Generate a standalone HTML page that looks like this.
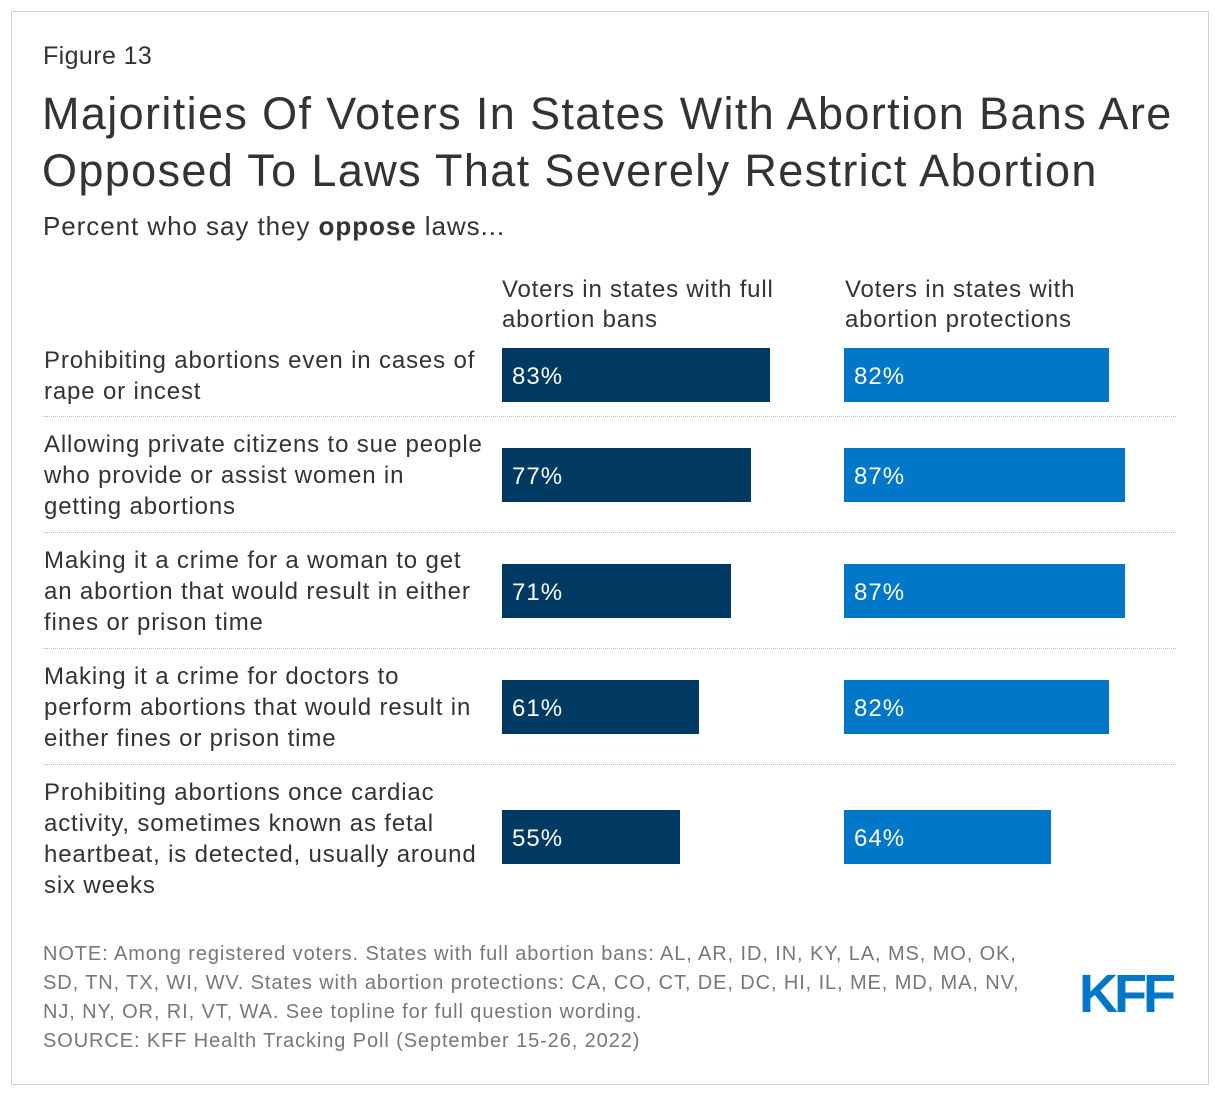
<!DOCTYPE html>
<html><head><meta charset="utf-8"><style>
body{margin:0;background:#fff;font-family:"Liberation Sans",Arial,sans-serif;}
#frame{position:absolute;left:11px;top:11px;width:1196px;height:1072px;border:1px solid #d0d0d0;background:#fff;}
.abs{position:absolute;white-space:nowrap;}
.lbl{position:absolute;left:44px;font-size:24px;line-height:31px;color:#333;white-space:nowrap;letter-spacing:0.85px;}
.sep{position:absolute;left:44px;width:1132px;border-top:1px dotted #bbb;}
.bar{position:absolute;height:54px;}
.val{position:absolute;color:#fff;font-size:24px;line-height:58px;letter-spacing:1px;}
.note{font-size:20px;color:#777;line-height:29px;letter-spacing:0.9px;}
</style></head><body>
<div id="frame"></div>
<div class="abs" style="left:43px;top:42px;font-size:25px;color:#333;letter-spacing:0.4px">Figure 13</div>
<div class="abs" style="left:42px;top:85px;font-size:45px;line-height:57px;color:#333;letter-spacing:1.37px">Majorities Of Voters In States With Abortion Bans Are<br>Opposed To Laws That Severely Restrict Abortion</div>
<div class="abs" style="left:43px;top:211px;font-size:26px;color:#333;letter-spacing:0.94px">Percent who say they <b>oppose</b> laws...</div>
<div class="abs" style="left:502px;top:275px;font-size:24px;line-height:30px;color:#333;letter-spacing:0.8px">Voters in states with full<br>abortion bans</div>
<div class="abs" style="left:845px;top:275px;font-size:24px;line-height:30px;color:#333;letter-spacing:0.8px">Voters in states with<br>abortion protections</div>
<div id="chart"></div>
<div class="abs note" style="left:43px;top:940px">NOTE: Among registered voters. States with full abortion bans: AL, AR, ID, IN, KY, LA, MS, MO, OK,<br>SD, TN, TX, WI, WV. States with abortion protections: CA, CO, CT, DE, DC, HI, IL, ME, MD, MA, NV,<br>NJ, NY, OR, RI, VT, WA. See topline for full question wording.<br>SOURCE: KFF Health Tracking Poll (September 15-26, 2022)</div>
<div class="abs" style="left:1079px;top:962px;font-size:54px;font-weight:bold;color:#0077c8;letter-spacing:-4px;line-height:64px">KFF</div>
<script>
const categories=["Prohibiting abortions even in cases of<br>rape or incest","Allowing private citizens to sue people<br>who provide or assist women in<br>getting abortions","Making it a crime for a woman to get<br>an abortion that would result in either<br>fines or prison time","Making it a crime for doctors to<br>perform abortions that would result in<br>either fines or prison time","Prohibiting abortions once cardiac<br>activity, sometimes known as fetal<br>heartbeat, is detected, usually around<br>six weeks"];
const bansValues=[83,77,71,61,55];
const protectionValues=[82,87,87,82,64];
const chart=document.getElementById('chart');
const barTops=[348,448,564,680,810];
const labelTops=[345,429,545,661,777];
const sepTops=[416,532,648,764];
const scale=v=>v*3.23;
categories.forEach((c,i)=>{
  const l=document.createElement('div');l.className='lbl';l.style.top=labelTops[i]+'px';l.innerHTML=c;
  
  
  chart.appendChild(l);
  [[bansValues,502,'#003a63'],[protectionValues,844,'#0077c8']].forEach(([arr,x0,col],k)=>{
    const b=document.createElement('div');b.className='bar';
    b.style.left=x0+'px';b.style.top=barTops[i]+'px';b.style.width=scale(arr[i])+'px';b.style.background=col;
    
    
    chart.appendChild(b);
    const t=document.createElement('div');t.className='val';t.style.left=(x0+10)+'px';t.style.top=barTops[i]+'px';t.textContent=arr[i]+'%';
    
    
    chart.appendChild(t);
  });
});
sepTops.forEach(y=>{const s=document.createElement('div');s.className='sep';s.style.top=y+'px';
  
  
  chart.appendChild(s);});
</script>
</body></html>
